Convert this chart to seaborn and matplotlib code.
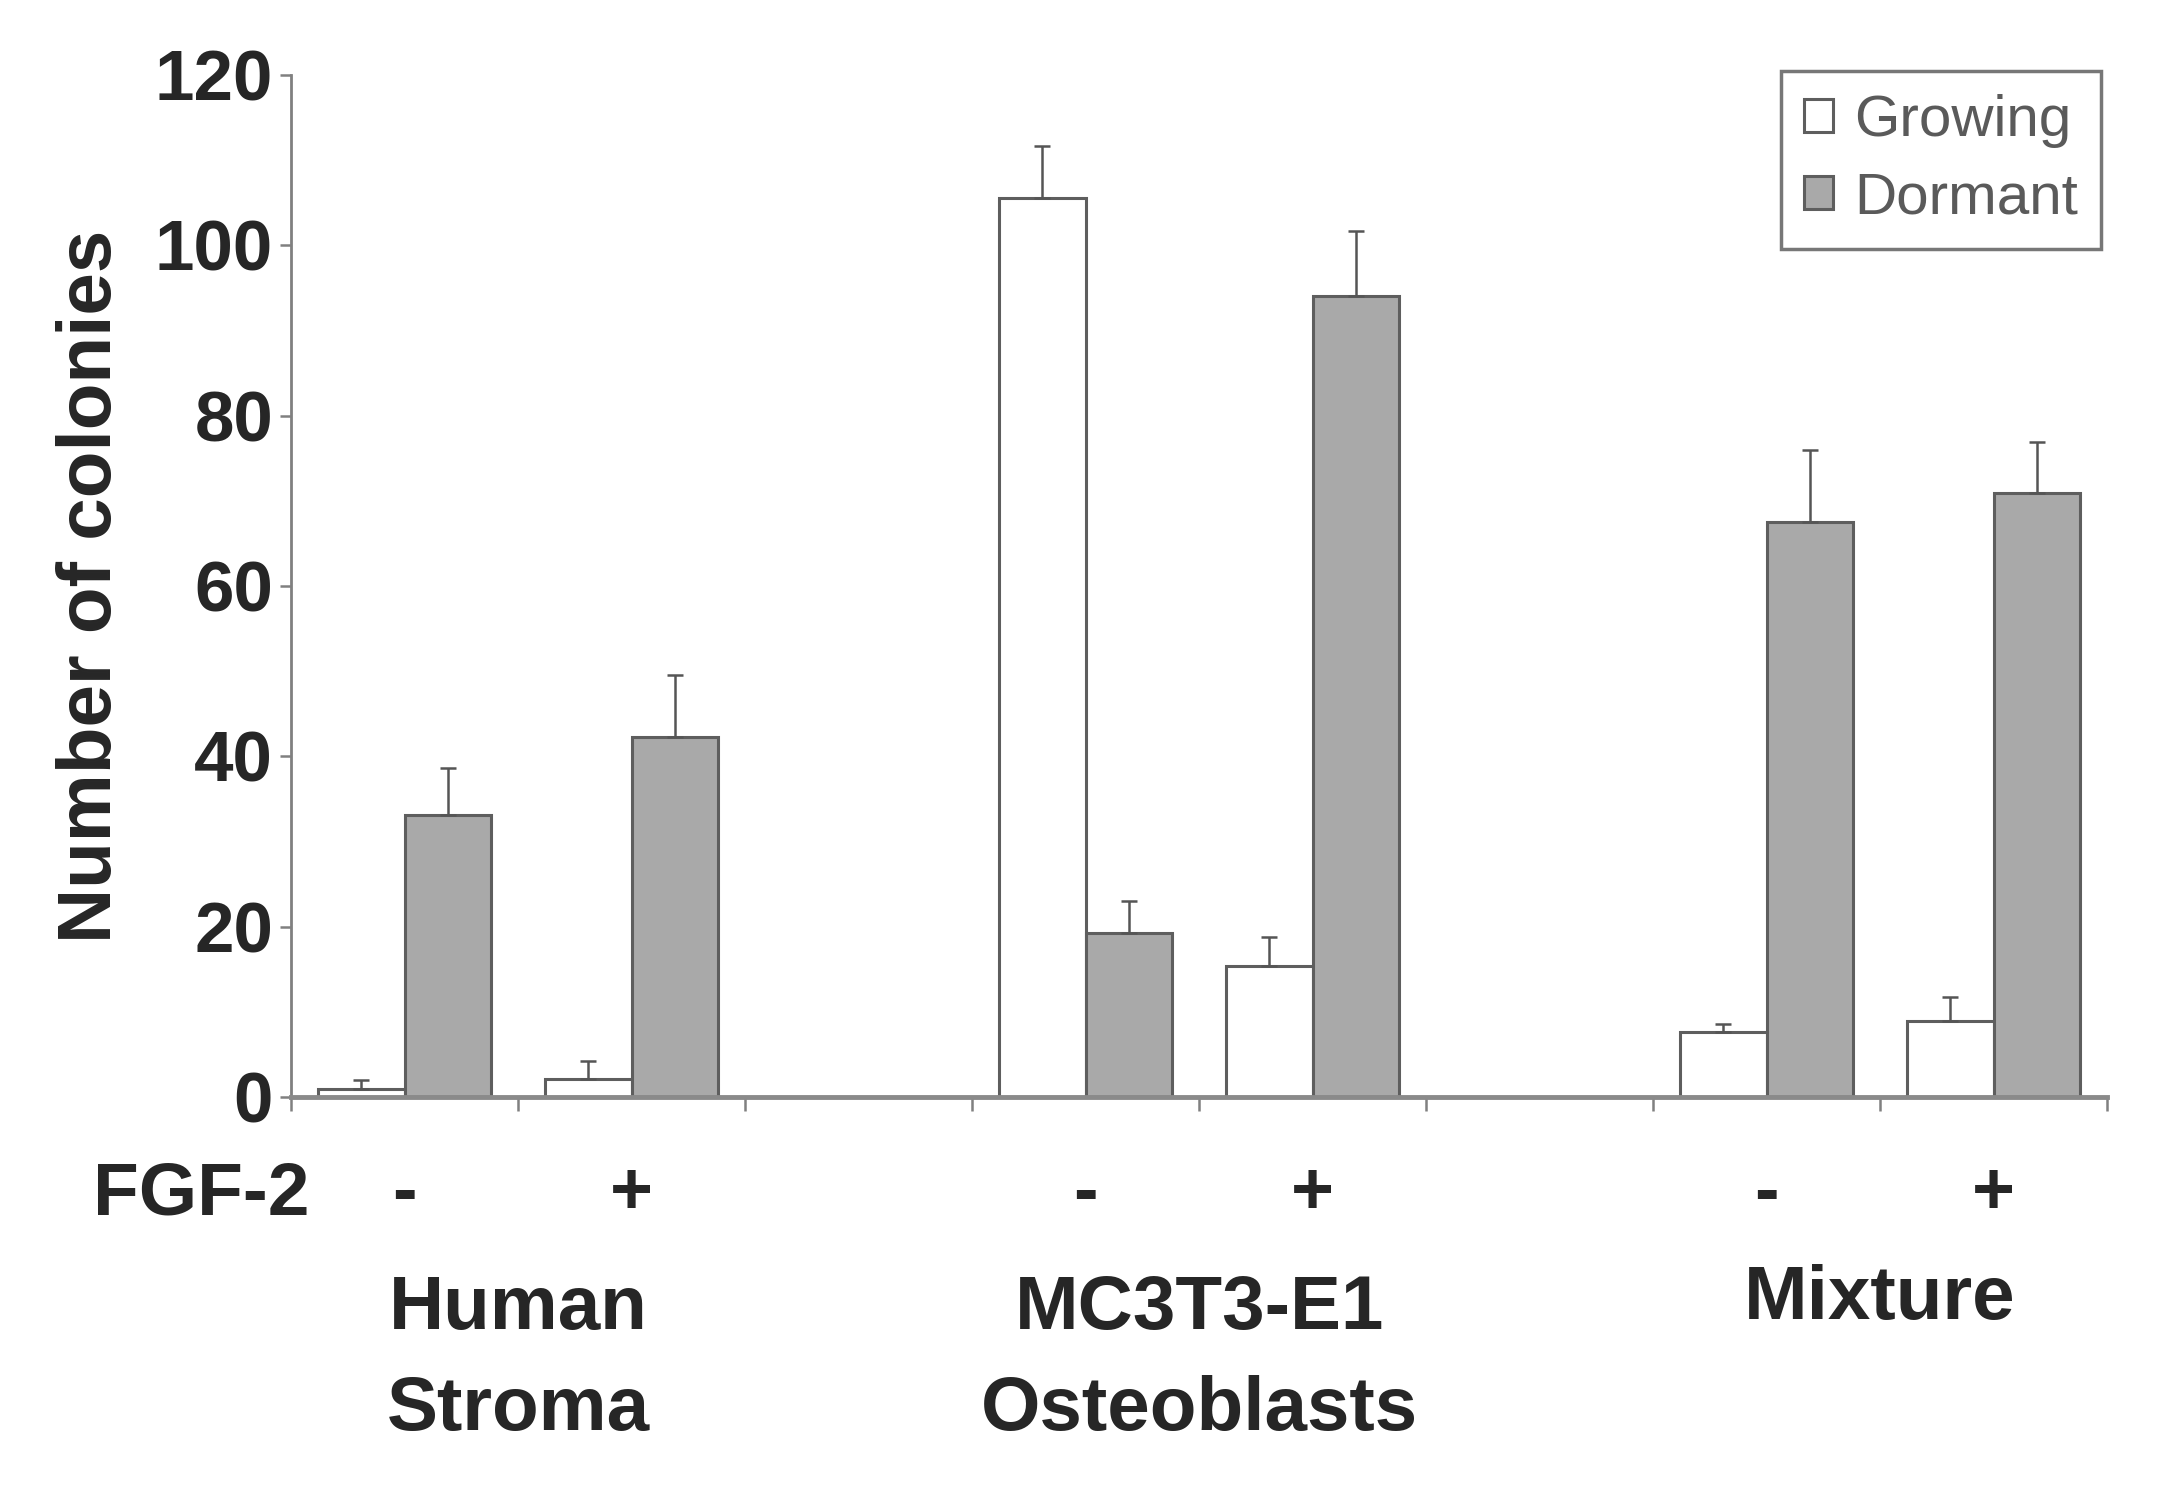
import matplotlib
matplotlib.use("Agg")
import matplotlib.pyplot as plt
import matplotlib.transforms as mtransforms
import numpy as np
import pandas as pd
import seaborn as sns

# ---- data ----
slots = ["HS-", "HS+", "gap1", "MC-", "MC+", "gap2", "MIX-", "MIX+"]
data_slots = ["HS-", "HS+", "MC-", "MC+", "MIX-", "MIX+"]
growing = [1.0, 2.1, 105.6, 15.4, 7.6, 8.9]
growing_err = [1.0, 2.1, 6.0, 3.4, 1.0, 2.9]
dormant = [33.1, 42.3, 19.3, 94.0, 67.5, 70.9]
dormant_err = [5.5, 7.2, 3.7, 7.7, 8.5, 6.0]
fgf_signs = ["-", "+", "-", "+", "-", "+"]
group_pairs = [("HS-", "HS+"), ("MC-", "MC+"), ("MIX-", "MIX+")]
group_labels = [["Human", "Stroma"], ["MC3T3-E1", "Osteoblasts"], ["Mixture"]]
series = ["Growing", "Dormant"]
yticks = [0, 20, 40, 60, 80, 100, 120]

df = pd.DataFrame({
    "slot": data_slots * 2,
    "count": growing + dormant,
    "err": growing_err + dormant_err,
    "type": [series[0]] * len(data_slots) + [series[1]] * len(data_slots),
})

sns.set_theme(style="white")
plt.rcParams["font.family"] = ["Liberation Sans", "DejaVu Sans"]

fig = plt.figure(figsize=(21.64, 14.98), dpi=100)
ax = fig.add_axes([0.1345, 0.2676, 0.8392, 0.6824])

edge = "#5e5e5e"
sns.barplot(data=df, x="slot", y="count", hue="type", order=slots,
            hue_order=series,
            palette={"Growing": "white", "Dormant": "#a9a9a9"},
            edgecolor=edge, linewidth=2.2, width=0.76, errorbar=None,
            ax=ax)

# error bars (upper only)
err_lookup = {(r.slot, r.type): r.err for r in df.itertuples()}
for cont, lab in zip(ax.containers, series):
    for p in cont.patches:
        xc = p.get_x() + p.get_width() / 2
        h = p.get_height()
        if not np.isfinite(h):
            continue
        s = slots[int(round(xc))]
        e = err_lookup[(s, lab)]
        ax.errorbar([xc], [h], yerr=[[0], [e]], fmt="none", ecolor="#555555",
                    elinewidth=1.8, capsize=6, capthick=1.8, zorder=3)

# axes styling
ax.set_xlim(-0.5, len(slots) - 0.5)
ax.set_ylim(0, 120)
ax.set_xticks(np.arange(-0.5, len(slots), 1.0))
ax.set_xticklabels([])
ax.set_yticks(yticks)
ax.set_yticklabels([str(t) for t in yticks], fontsize=51, fontweight="bold")
ax.set_xlabel("")
ax.set_ylabel("Number of colonies", fontsize=55, fontweight="bold", labelpad=20)
for side in ["top", "right"]:
    ax.spines[side].set_visible(False)
ax.spines["left"].set_color("#808080")
ax.spines["left"].set_linewidth(2)
ax.spines["bottom"].set_color("#8a8a8a")
ax.spines["bottom"].set_linewidth(3.5)
ax.tick_params(axis="both", which="both", direction="out", color="#808080",
               width=1.8, length=8, bottom=True, left=True)
ax.tick_params(axis="x", length=10)
ax.tick_params(axis="y", pad=5)

tr = mtransforms.blended_transform_factory(ax.transData, fig.transFigure)
# FGF-2 signs
sign_y = 0.2026
for s, sign in zip(data_slots, fgf_signs):
    ax.text(slots.index(s), sign_y, sign, transform=tr, ha="center", va="center",
            fontsize=53, fontweight="bold")
ax.text(-0.42, sign_y, "FGF-2", transform=tr, ha="right", va="center",
        fontsize=54, fontweight="bold")

# group labels
line_y = [0.1258, 0.0583]
for (a, b), lines in zip(group_pairs, group_labels):
    xc = (slots.index(a) + slots.index(b)) / 2
    if len(lines) == 1:
        ax.text(xc, 0.1327, lines[0], transform=tr, ha="center", va="center",
                fontsize=55, fontweight="bold")
    else:
        for ln, yy in zip(lines, line_y):
            ax.text(xc, yy, ln, transform=tr, ha="center", va="center",
                    fontsize=55, fontweight="bold")

# legend
handles, labels = ax.get_legend_handles_labels()
leg = ax.legend(handles, labels, loc="upper right", bbox_to_anchor=(0.9967, 1.004),
                frameon=True, fancybox=False, fontsize=42, handlelength=0.5,
                handleheight=0.5, handletextpad=0.35, labelspacing=0.4,
                borderpad=0.4, borderaxespad=0, labelcolor="#5a5a5a")
leg.get_frame().set_edgecolor("#555555")
leg.get_frame().set_linewidth(2.5)

fig.savefig("out.png", dpi=100, facecolor="white")
